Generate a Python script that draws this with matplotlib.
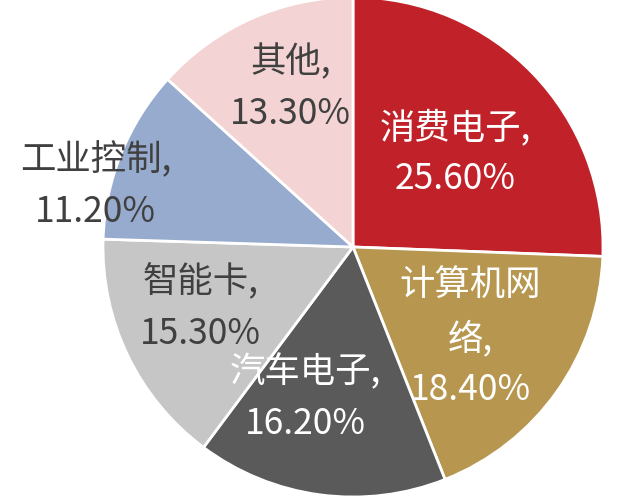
import matplotlib
matplotlib.use("Agg")
import matplotlib.pyplot as plt

plt.rcParams['font.family'] = ['Noto Sans CJK SC', 'DejaVu Sans']

categories = ["消费电子", "计算机网络", "汽车电子", "智能卡", "工业控制", "其他"]
values = [25.6, 18.4, 16.2, 15.3, 11.2, 13.3]
label_texts = ["消费电子,\n25.60%", "计算机网\n络,\n18.40%", "汽车电子,\n16.20%",
               "智能卡,\n15.30%", "工业控制,\n11.20%", "其他,\n13.30%"]

colors = ["#C1222A", "#B79750", "#5A5A5A", "#C6C6C6", "#97ABCE", "#F3D3D3"]
text_colors = ["white", "white", "white", "#404040", "#404040", "#404040"]
label_pos = [(0.41, 0.38), (0.47, -0.36), (-0.19, -0.60), (-0.61, -0.24), (-1.03, 0.25), (-0.25, 0.64)]

W, H = 641, 502
fig = plt.figure(figsize=(W / 100, H / 100), dpi=100)
cx, cy, r = 353, 248, 250
ax = fig.add_axes([(cx - r) / W, (H - cy - r) / H, 2 * r / W, 2 * r / H])
ax.pie(values, colors=colors, startangle=90, counterclock=False, radius=1,
       wedgeprops=dict(edgecolor="white", linewidth=2))
ax.set_xlim(-1, 1)
ax.set_ylim(-1, 1)
ax.set_aspect('auto')
ax.axis('off')
for txt, (x, y), c in zip(label_texts, label_pos, text_colors):
    ax.text(x, y, txt, ha='center', va='center', fontsize=25.5, color=c,
            linespacing=1.55, fontweight='light', clip_on=False)

fig.savefig("out.png", dpi=100, facecolor="white")
